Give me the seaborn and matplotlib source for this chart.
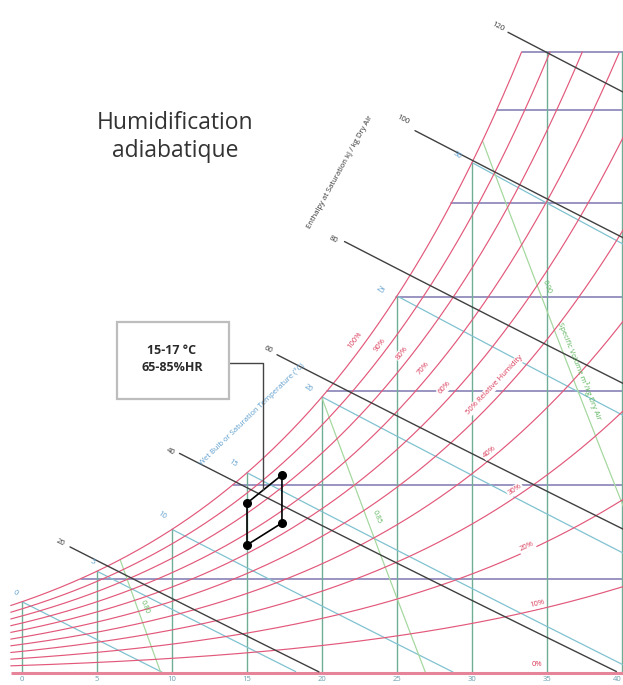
import numpy as np
import pandas as pd
import matplotlib
matplotlib.use("Agg")
import matplotlib.pyplot as plt
from matplotlib.patches import Rectangle
import seaborn as sns

# ---------------- data ----------------
P_ATM = 101.325  # kPa

rh_levels = [10, 20, 30, 40, 50, 60, 70, 80, 90, 100]
rh_label_text = ["0%", "10%", "20%", "30%", "40%", "50% Relative Humidity",
                 "60%", "70%", "80%", "90%", "100%"]
rh_label_level = [0, 10, 20, 30, 40, 50, 60, 70, 80, 90, 100]
rh_label_T = [34.33, 34.33, 33.67, 32.87, 31.2, 31.53, 28.2, 26.73, 25.33, 23.87, 22.2]
rh_label_W = [0.40, 3.65, 6.69, 9.73, 11.75, 15.33, 15.17, 16.23, 17.03, 17.46, 17.72]

dry_bulb = [0, 5, 10, 15, 20, 25, 30, 35, 40]
dry_bulb_labels = ["0", "5", "10", "15", "20", "25", "30", "35", "40"]
humidity_ratio = [5, 10, 15, 20, 25, 30]
chart_top_W = 33.1
chart_left_T = -0.75
chart_right_T = 40.6

enthalpy = [20, 40, 60, 80, 100, 120]
enthalpy_start_T = [3.2, 10.5, 17.0, 21.5, 26.2, 32.4]
enthalpy_label_T = [2.53, 9.87, 16.4, 20.73, 25.4, 31.73]
enthalpy_label_W = [6.9, 11.75, 17.19, 23.05, 29.45, 34.41]

wet_bulb = [0, 5, 10, 15, 20, 25, 30]
wet_bulb_label_T = [-0.47, 4.67, 9.33, 14.07, 19.07, 23.87, 29.0]
wet_bulb_label_W = [4.24, 5.89, 8.40, 11.17, 15.16, 20.39, 27.59]

spec_volume = [0.80, 0.85, 0.90]
spec_volume_label = ["0.80", "0.85", "0.90"]
spec_volume_label_T = [8.2, 23.67, 35.0]
spec_volume_label_W = [3.49, 8.29, 20.55]

zone_T = [15.0, 17.33, 17.33, 15.0]
zone_W = [9.03, 10.53, 7.97, 6.80]
connector_T = [13.8, 16.07, 16.07]
connector_W = [16.5, 16.5, 9.75]

title_text = "Humidification\nadiabatique"
box_text = "15-17 °C\n65-85%HR"

# ---------------- psychrometric relations ----------------
def p_sat(T):
    T = np.asarray(T, dtype=float)
    return 0.61078 * np.exp(17.27 * T / (T + 237.3))

def w_rh(T, rh):
    ps = rh / 100.0 * p_sat(T)
    return 621.945 * ps / (P_ATM - ps)

def dew_T(W):
    ps = W * P_ATM / (621.945 + W)
    a = np.log(ps / 0.61078)
    return 237.3 * a / (17.27 - a)

# ---------------- figure ----------------
sns.set_theme(style="white")
plt.rcParams["font.family"] = ["Open Sans", "DejaVu Sans"]

fig = plt.figure(figsize=(6.23, 6.85), dpi=100)
fig.patch.set_facecolor("white")
ax = fig.add_axes([0, 12.5 / 685, 1, 672.5 / 685])
ax.set_facecolor("white")
ax.set_xlim(-22 / 15.0, 601 / 15.0)
ax.set_ylim(0, 672.5 / 18.76)

C_RH = "#e2587a"
C_DB = "#6fae95"
C_HR = "#7e78b0"
C_H = "#404040"
C_WB = "#80c2d0"
C_V = "#a6d8a0"
C_WBTXT = "#5a9ccc"

# humidity ratio lines (horizontal)
for W in humidity_ratio + [chart_top_W]:
    ax.plot([dew_T(W), chart_right_T], [W, W], color=C_HR, lw=1.1, zorder=1)

# dry bulb lines (vertical)
for T in dry_bulb:
    top = min(float(w_rh(T, 100)), chart_top_W)
    ax.plot([T, T], [0, top], color=C_DB, lw=1.0, zorder=1)

# wet bulb lines
rows = []
for twb in wet_bulb:
    ws = w_rh(twb, 100) / 1000.0
    Tg = np.linspace(twb, 45, 300)
    Wg = 1000 * ((2501 - 2.326 * twb) * ws - 1.006 * (Tg - twb)) / (2501 + 1.86 * Tg - 4.186 * twb)
    m = Wg >= 0
    rows.append(pd.DataFrame({"T": Tg[m], "W": Wg[m], "line": f"wb{twb}"}))
wb_df = pd.concat(rows)
sns.lineplot(data=wb_df, x="T", y="W", units="line", estimator=None, sort=False,
             color=C_WB, lw=0.9, ax=ax, zorder=2)

# specific volume lines
rows = []
for v in spec_volume:
    Wg = np.linspace(0, chart_top_W, 400)
    Tg = v * P_ATM / (0.287042 * (1 + 1.607858 * Wg / 1000)) - 273.15
    m = Wg <= w_rh(Tg, 100)
    rows.append(pd.DataFrame({"T": Tg[m], "W": Wg[m], "line": f"v{v}"}))
v_df = pd.concat(rows)
sns.lineplot(data=v_df, x="T", y="W", units="line", estimator=None, sort=False,
             color=C_V, lw=0.9, ax=ax, zorder=2)

# relative humidity curves
rows = []
Tg = np.arange(chart_left_T, chart_right_T, 0.05)
for rh in rh_levels:
    Wg = w_rh(Tg, rh)
    m = Wg <= chart_top_W
    rows.append(pd.DataFrame({"T": Tg[m], "W": Wg[m], "rh": rh}))
rh_df = pd.concat(rows)
sns.lineplot(data=rh_df, x="T", y="W", units="rh", estimator=None, sort=False,
             color=C_RH, lw=0.85, ax=ax, zorder=3)
# 0 % line (base)
ax.plot([chart_left_T, chart_right_T], [0, 0], color="#e6849a", lw=2.2,
        zorder=3, clip_on=False, solid_capstyle="butt")

# enthalpy lines
rows = []
for h, t0 in zip(enthalpy, enthalpy_start_T):
    Tg2 = np.linspace(t0, 45, 200)
    Wg = 1000 * (h - 1.006 * Tg2) / (2501 + 1.86 * Tg2)
    m = Wg >= 0
    rows.append(pd.DataFrame({"T": Tg2[m], "W": Wg[m], "h": h}))
h_df = pd.concat(rows)
sns.lineplot(data=h_df, x="T", y="W", units="h", estimator=None, sort=False,
             color=C_H, lw=1.0, ax=ax, zorder=4)

# ---------------- labels ----------------
def slope_angle(dT, dW):
    return np.degrees(np.arctan2(dW, dT))

for txt, lvl, T, W in zip(rh_label_text, rh_label_level, rh_label_T, rh_label_W):
    dW = float(w_rh(T + 0.2, lvl) - w_rh(T - 0.2, lvl))
    ax.text(T, W, txt, color="#d83a58", fontsize=5.5, ha="center", va="center",
            rotation=slope_angle(0.4, dW), transform_rotates_text=True,
            rotation_mode="anchor", zorder=6,
            bbox=dict(boxstyle="square,pad=0.15", fc="white", ec="none"))

for h, T, W in zip(enthalpy, enthalpy_label_T, enthalpy_label_W):
    dW = 1000 * ((h - 1.006 * (T + 0.5)) / (2501 + 1.86 * (T + 0.5)) - (h - 1.006 * T) / (2501 + 1.86 * T))
    ax.text(T, W, str(h), color="#333333", fontsize=5.5, ha="center", va="center",
            rotation=slope_angle(0.5, dW), transform_rotates_text=True,
            rotation_mode="anchor", zorder=6)

for twb, T, W in zip(wet_bulb, wet_bulb_label_T, wet_bulb_label_W):
    ax.text(T, W, str(twb), color=C_WBTXT, fontsize=5.5, ha="center", va="center",
            rotation=-35, rotation_mode="anchor", zorder=6)

for txt, T, W in zip(spec_volume_label, spec_volume_label_T, spec_volume_label_W):
    ax.text(T, W, txt, color="#5cb45c", fontsize=5, ha="center", va="center",
            rotation=-68, rotation_mode="anchor", zorder=6)

ax.text(15.33, 13.78, "Wet Bulb or Saturation Temperature (°C)", color=C_WBTXT,
        fontsize=5.5, ha="center", va="center", rotation=44, rotation_mode="anchor", zorder=6)
ax.text(21.2, 26.68, "Enthalpy at Saturation kJ / kg Dry Air", color="#333333",
        fontsize=5.5, ha="center", va="center", rotation=61, rotation_mode="anchor", zorder=6)
ax.text(37.2, 16.1, "Specific Volume m³/kg Dry Air", color="#5cb45c",
        fontsize=5.5, ha="center", va="center", rotation=-68, rotation_mode="anchor", zorder=6)

# ---------------- axis ticks ----------------
ax.set_xticks(dry_bulb)
ax.set_xticklabels(dry_bulb_labels)
ax.set_yticks([])
ax.tick_params(axis="x", length=0, labelsize=5.5, labelcolor="#6a9fb0", pad=2.5)
ax.get_xticklabels()[-1].set_horizontalalignment("right")
for s in ax.spines.values():
    s.set_visible(False)
ax.set_xlabel("")
ax.set_ylabel("")

# ---------------- annotation ----------------
ax.plot(zone_T + zone_T[:1], zone_W + zone_W[:1], color="black", lw=1.2, zorder=7)
ax.plot(zone_T, zone_W, "o", color="black", ms=5.5, zorder=8)
ax.plot(connector_T, connector_W, color="#444444", lw=1.0, zorder=7)

fig.patches.append(Rectangle((117 / 623, 1 - 399 / 685), 112 / 623, 77 / 685,
                             transform=fig.transFigure, fc="white", ec="#bdbdbd",
                             lw=1.6, zorder=9))
fig.text(172 / 623, 1 - 359 / 685, box_text, ha="center", va="center",
         fontsize=9, fontweight="bold", color="#2a2a2a", linespacing=1.35, zorder=10)

fig.text(175 / 623, 1 - 137 / 685, title_text, ha="center", va="center",
         fontsize=16.5, color="#333333", linespacing=1.25)

fig.savefig("out.png", dpi=100, facecolor="white")
